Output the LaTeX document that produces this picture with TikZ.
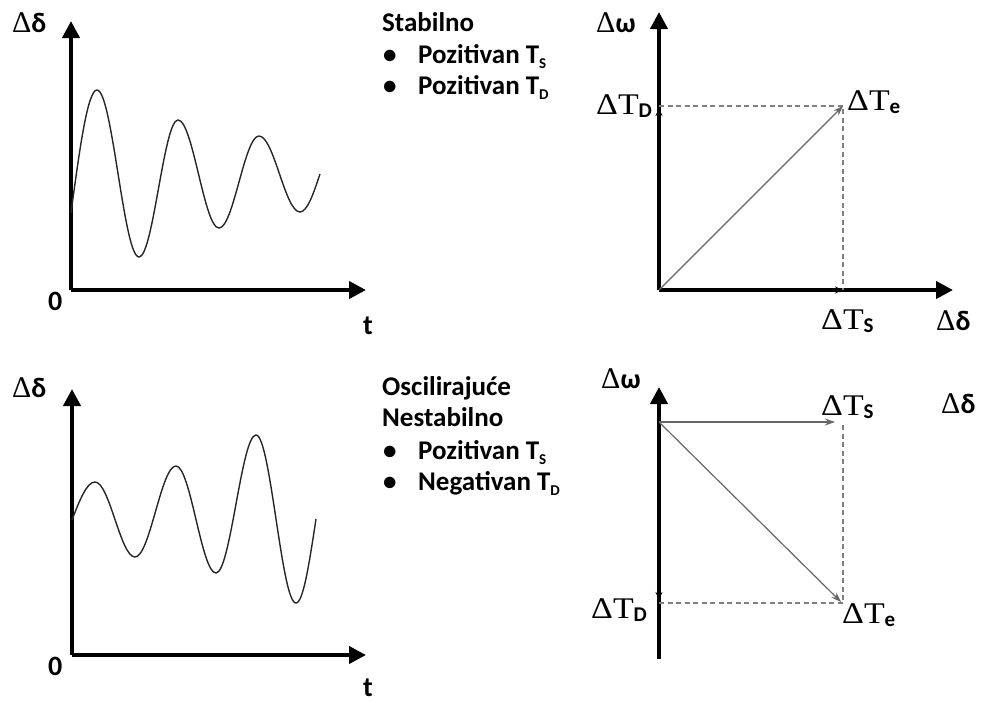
\documentclass[tikz,border=0pt]{standalone}
\usepackage{fontspec}
\usepackage{graphicx}
\setmainfont{Carlito}
\newfontfamily\tmsfont{Liberation Serif}
\usetikzlibrary{arrows.meta}
\newcommand\dlt{{\tmsfont\fontsize{30}{30}\selectfont Δ}{\bfseries δ}}
\newcommand\omg{{\tmsfont\fontsize{30}{30}\selectfont Δ}{\bfseries ω}}
\newcommand\txtsub[1]{\raisebox{-0.2em}{\fontsize{15}{15}\selectfont\bfseries #1}}
\newcommand\vsub[1]{\raisebox{-0.12em}{\fontsize{21}{21}\selectfont\bfseries #1}}
\newcommand\vT[1]{\scalebox{1.13}[1]{\tmsfont ΔT}\vsub{#1}}
\begin{document}
\begin{tikzpicture}[x=1pt,y=-1pt,
  axis/.style={line width=4pt,-{Triangle[width=17pt,length=17pt]}},
  plainaxis/.style={line width=4pt},
  curve/.style={line width=1.4pt,draw=black!85},
  vec/.style={line width=1.2pt,draw=black!60,-{Stealth[length=10pt,width=7pt]}},
  axvec/.style={line width=4pt,-{Stealth[length=8pt,width=7pt]}},
  dashline/.style={line width=1.2pt,draw=black!50,dash pattern=on 5pt off 3.5pt},
  lbl/.style={inner sep=0pt,anchor=base west,font=\fontsize{28}{30}\selectfont},
  num/.style={inner sep=0pt,anchor=base west,font=\fontsize{28}{30}\selectfont\bfseries},
  vlbl/.style={inner sep=0pt,anchor=base west,font=\fontsize{30}{32}\selectfont},
  txt/.style={inner sep=0pt,anchor=base west,font=\fontsize{27}{30}\selectfont\bfseries}]
\useasboundingbox (0,0) rectangle (990,702);
% ---------- top left: stable response ----------
\coordinate (O1) at (71,290);
\coordinate (Y1) at (71,21);
\coordinate (X1) at (366,290);
\draw[axis] (O1) -- (Y1);
\draw[axis] (O1) -- (X1);
\draw[curve] (71,213) sin (97,90) cos (118,173.5) sin (139,257) cos (158.5,188.5)
  sin (178,120) cos (198.5,174) sin (219,228) cos (239,182) sin (259,136)
  cos (279.5,174) sin (300,212) cos (320,174);
\node[lbl] (d1) at (12,32) {\dlt};
\node[num] (z1) at (48,310) {0};
\node[num] (t1) at (363,334) {t};
% ---------- top text ----------
\node[txt] (s1) at (382,31) {Stabilno};
\node[txt] (b1) at (383,63) {•};
\node[txt] (p1) at (418,63) {Pozitivan T\txtsub{S}};
\node[txt] (b2) at (383,94) {•};
\node[txt] (p2) at (418,94) {Pozitivan T\txtsub{D}};
% ---------- top right: phasor diagram ----------
\coordinate (O2) at (659,290);
\coordinate (Y2) at (659,12);
\coordinate (X2) at (953,290);
\coordinate (TD2) at (659,108);
\coordinate (TS2) at (843,290);
\coordinate (TE2) at (843,106);
\draw[axis] (O2) -- (Y2);
\draw[axis] (O2) -- (X2);
\draw[axvec] (O2) -- (TD2);
\draw[axvec] (O2) -- (TS2);
\draw[dashline] (659,106) -- (TE2) -- (843,290);
\draw[vec] (O2) -- (TE2);
\node[lbl] (w2) at (596,32) {\omg};
\node[vlbl] (ltd2) at (596,114) {\vT{D}};
\node[vlbl] (lte2) at (847,110) {\vT{e}};
\node[vlbl] (lts2) at (821,329) {\vT{S}};
\node[lbl] (dd2) at (936,330) {\dlt};
% ---------- bottom left: oscillatory unstable response ----------
\coordinate (O3) at (72,655);
\coordinate (Y3) at (72,389);
\coordinate (X3) at (366,655);
\draw[axis] (O3) -- (Y3);
\draw[axis] (O3) -- (X3);
\draw[curve] (72,520) sin (95,482) cos (115,519.5) sin (135,557) cos (155.5,511.5)
  sin (176,466) cos (196,519.5) sin (216,573) cos (236,504) sin (256,435)
  cos (276,519) sin (296,603) cos (316,519);
\node[lbl] (d3) at (12,397) {\dlt};
\node[num] (z3) at (48,675) {0};
\node[num] (t3) at (363,696) {t};
% ---------- bottom text ----------
\node[txt] (s3) at (382,395) {Oscilirajuće};
\node[txt] (s4) at (382,426) {Nestabilno};
\node[txt] (b3) at (383,459) {•};
\node[txt] (p3) at (418,459) {Pozitivan T\txtsub{S}};
\node[txt] (b4) at (383,490) {•};
\node[txt] (p4) at (418,490) {Negativan T\txtsub{D}};
% ---------- bottom right: phasor diagram ----------
\coordinate (B4) at (659,659);
\coordinate (Y4) at (659,387);
\coordinate (O4) at (659,422);
\coordinate (TS4) at (835,422);
\coordinate (TD4) at (659,600);
\coordinate (TE4) at (841,602);
\draw[plainaxis] (B4) -- (O4);
\draw[axis] (O4) -- (Y4);
\draw[axvec] (O4) -- (TD4);
\draw[dashline] (659,603) -- (843,603) -- (843,424);
\draw[vec] (O4) -- (TS4);
\draw[vec] (O4) -- (TE4);
\node[lbl] (w4) at (601,388) {\omg};
\node[vlbl] (lts4) at (821,415) {\vT{S}};
\node[lbl] (dd4) at (941,413) {\dlt};
\node[vlbl] (ltd4) at (591,618) {\vT{D}};
\node[vlbl] (lte4) at (842,623) {\vT{e}};
\end{tikzpicture}
\end{document}
